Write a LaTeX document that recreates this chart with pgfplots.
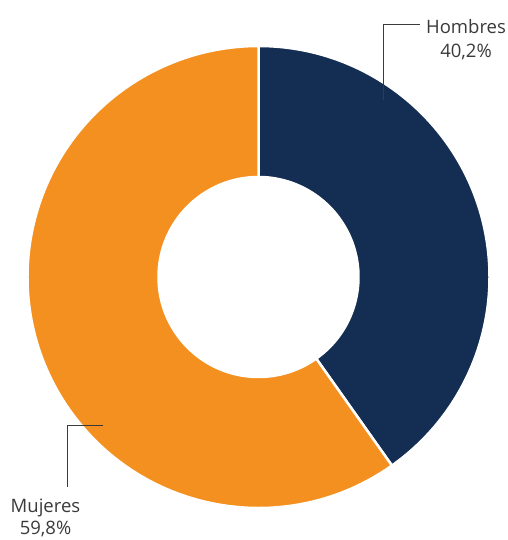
\documentclass[border=0pt]{standalone}
\usepackage{fontspec}
\setmainfont{Open Sans}
\usepackage{pgfplots}
\usepackage{pgfplotstable}
\pgfplotsset{compat=1.18}
\usetikzlibrary{calc}

\definecolor{navy}{HTML}{132E52}
\definecolor{naranja}{HTML}{F39020}
\definecolor{texto}{HTML}{3A3A3A}

\pgfplotstableread{
label value
Hombres 40.2
Mujeres 59.8
}\sexo

\begin{document}
\begin{tikzpicture}
\pgfplotstablegetelem{0}{value}\of\sexo \let\vh=\pgfplotsretval
\pgfplotstablegetelem{1}{value}\of\sexo \let\vm=\pgfplotsretval
\pgfmathsetmacro\ah{90-3.6*\vh}
\pgfmathsetmacro\am{\ah-3.6*\vm}
\begin{axis}[x=1pt, y=1pt, xmin=0, xmax=507, ymin=0, ymax=540,
  hide axis, clip=false]
  % centro y radios del anillo
  \def\R{231pt}\def\r{100pt}
  \coordinate (c) at (axis cs:258.5,263);
  \coordinate (ll) at (axis cs:0,0);
  \coordinate (ur) at (axis cs:507,540);
  % Hombres
  \filldraw[navy, draw=white, line width=2.5pt]
    ($(c)+(90:\R)$) arc[start angle=90, end angle=\ah, radius=\R]
    -- ($(c)+(\ah:\r)$) arc[start angle=\ah, end angle=90, radius=\r] -- cycle;
  % Mujeres
  \filldraw[naranja, draw=white, line width=2.5pt]
    ($(c)+(\ah:\R)$) arc[start angle=\ah, end angle=\am, radius=\R]
    -- ($(c)+(\am:\r)$) arc[start angle=\am, end angle=\ah, radius=\r] -- cycle;
  % etiquetas
  \draw[texto, line width=0.8pt] (axis cs:383,440) -- (axis cs:383,516) -- (axis cs:420,516);
  \draw[texto, line width=0.8pt] (axis cs:103,115) -- (axis cs:67,115) -- (axis cs:67,53);
  \tikzset{lbl/.style={texto, inner sep=0pt, anchor=base, font=\fontsize{18.5}{24}\selectfont}}
  \node[lbl] at (axis cs:466,506) {Hombres};
  \node[lbl] at (axis cs:466,482) {40,2\%};
  \node[lbl] at (axis cs:45.5,27) {Mujeres};
  \node[lbl] at (axis cs:45.5,5) {59,8\%};
\end{axis}
\pgfresetboundingbox
\path[use as bounding box] (ll) rectangle (ur);
\end{tikzpicture}
\end{document}
